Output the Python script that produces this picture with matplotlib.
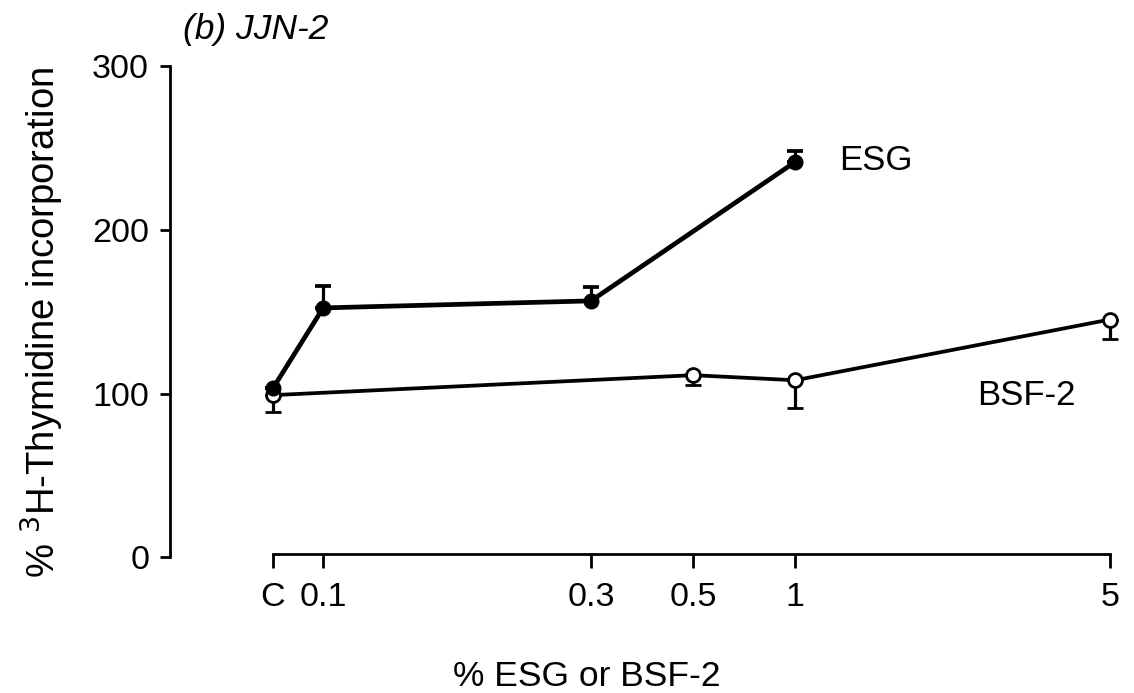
import matplotlib
matplotlib.use("Agg")
import matplotlib.pyplot as plt

plt.rcParams['font.family'] = ['Liberation Sans', 'DejaVu Sans']

# Concentration categories and their positions along the (irregular) x axis
categories = ["C", "0.1", "0.3", "0.5", "1", "5"]
cat_pos = [0.0, 0.6, 3.8, 5.02, 6.24, 10.0]

# ESG: C, 0.1, 0.3, 1
esg_cats = ["C", "0.1", "0.3", "1"]
esg_vals = [103.2, 152.3, 156.6, 241.5]
esg_err_up = [0.0, 13.2, 8.5, 6.7]

# BSF-2: C, 0.5, 1, 5
bsf_cats = ["C", "0.5", "1", "5"]
bsf_vals = [99.0, 111.2, 108.1, 145.2]
bsf_err_down = [10.2, 6.1, 16.7, 12.0]

yticks = [0, 100, 200, 300]

pos = dict(zip(categories, cat_pos))
esg_x = [pos[c] for c in esg_cats]
bsf_x = [pos[c] for c in bsf_cats]

fig = plt.figure(figsize=(11.34, 6.93), dpi=100)
ax = fig.add_axes([0.1499, 0.196, 0.8377, 0.7085])

ax.errorbar(bsf_x, bsf_vals, yerr=[bsf_err_down, [0] * len(bsf_vals)],
            color="black", lw=2.7, marker="o", ms=10, mfc="white", mec="black",
            mew=2.0, ecolor="black", elinewidth=2.3, capsize=6, capthick=2.7,
            zorder=2)
ax.errorbar(esg_x, esg_vals, yerr=[[0] * len(esg_vals), esg_err_up],
            color="black", lw=3.4, marker="o", ms=10.5, mfc="black", mec="black",
            ecolor="black", elinewidth=2.3, capsize=6, capthick=2.7,
            zorder=3)

ax.text(6.77, 242.5, "ESG", fontsize=25, va="center", ha="left")
ax.text(8.41, 99, "BSF-2", fontsize=25, va="center", ha="left")

ax.set_xlim(-1.23, 10.12)
ax.set_ylim(0, 300)
ax.set_xticks(cat_pos)
ax.set_xticklabels(categories)
ax.set_yticks(yticks)

for s in ("top", "right"):
    ax.spines[s].set_visible(False)
ax.spines["left"].set_bounds(0, 300)
ax.spines["bottom"].set_bounds(0, 10)
ax.spines["left"].set_linewidth(2.0)
ax.spines["bottom"].set_linewidth(2.0)
ax.spines["bottom"].set_position(("outward", -2))
ax.tick_params(axis="both", direction="out", width=2.0, labelsize=24.5, color="black")
ax.tick_params(axis="y", length=7, pad=8)
ax.tick_params(axis="x", length=10, pad=10)

fig.text(0.161, 0.957, "(b) JJN-2", fontsize=25.5, style="italic", ha="left", va="center")
fig.text(0.037, 0.535, "% $^{3}$H-Thymidine incorporation", fontsize=27.5,
         rotation=90, ha="center", va="center")
fig.text(0.517, 0.024, "% ESG or BSF-2", fontsize=25.5, ha="center", va="center")

fig.savefig("out.png", dpi=100)
